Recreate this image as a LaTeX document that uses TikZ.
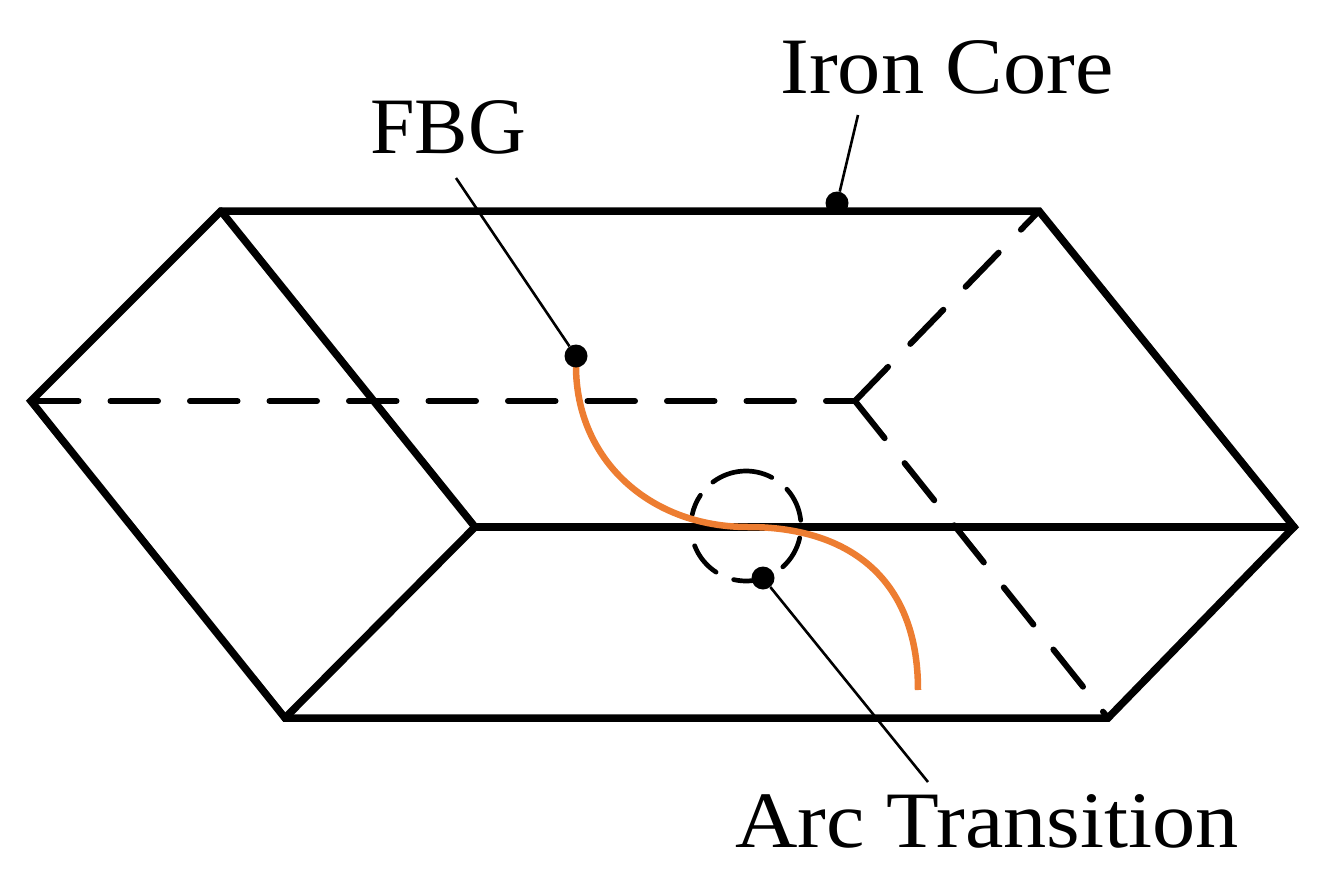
\documentclass[tikz,border=0pt]{standalone}
\usepackage{fontspec}
\setmainfont{Liberation Serif}
\newfontfamily\widefont[FakeStretch=1.08]{Liberation Serif}
\definecolor{fbgorange}{RGB}{237,125,49}
\tikzset{
 edge/.style={line width=7.5pt,line cap=round,line join=miter},
 dashedge/.style={line width=6pt,line cap=round,dash pattern=on 47.5pt off 32pt},
 circdash/.style={line width=4.7pt,line cap=round},
 fbgline/.style={line width=6.5pt,color=fbgorange},
 leader/.style={line width=2.6pt},
 dotnode/.style={circle,fill=black,inner sep=0pt,minimum size=23pt},
 lab/.style={font=\fontsize{80}{84}\selectfont,inner sep=0pt,anchor=base},
 widelab/.style={font=\widefont\fontsize{80}{84}\selectfont,inner sep=0pt,anchor=base},
}
\begin{document}
\begin{tikzpicture}[x=1pt,y=-1pt]
\useasboundingbox (0,0) rectangle (1326,875);
\coordinate (A) at (221,211);\coordinate (B) at (1039,211);\coordinate (C) at (1294,527);
\coordinate (D) at (1108,718);\coordinate (E) at (285,718);\coordinate (F) at (31,401);
\coordinate (G) at (475,527);\coordinate (H) at (855,401);\coordinate (R) at (746,526);
\draw[dashedge] (F)--(H);
\draw[dashedge] (H)--(B);
\draw[dashedge] (H)--(D);
\draw[edge] (A)--(B)--(C)--(D)--(E)--(F)--cycle;
\draw[edge] (A)--(G)--(E);
\draw[edge] (G)--(C);
\foreach \a/\b in {127/62,42/6,-12.5/-48,-71/-103,-123/-159,168/146}
  \draw[circdash] (R) ++(-\a:55) arc[start angle=-\a,end angle=-\b,radius=55];
\draw[fbgline] (576,366) .. controls (576,460) and (650,527) .. (748,527) .. controls (845,527) and (918,575) .. (918,690);
\node[dotnode] (d1) at (837,203) {};
\node[dotnode] (d2) at (576,356) {};
\node[dotnode] (d3) at (763,578) {};
\node[widelab] (t1) at (947,94) {Iron Core};
\node[lab] (t2) at (448,153) {FBG};
\node[widelab] (t3) at (987,847) {Arc Transition};
\coordinate (l1) at (858,115);\coordinate (l2) at (456,178);\coordinate (l3) at (928,782);
\draw[leader] (l1)--(d1);\draw[leader] (l2)--(d2);\draw[leader] (l3)--(d3);
\end{tikzpicture}
\end{document}
